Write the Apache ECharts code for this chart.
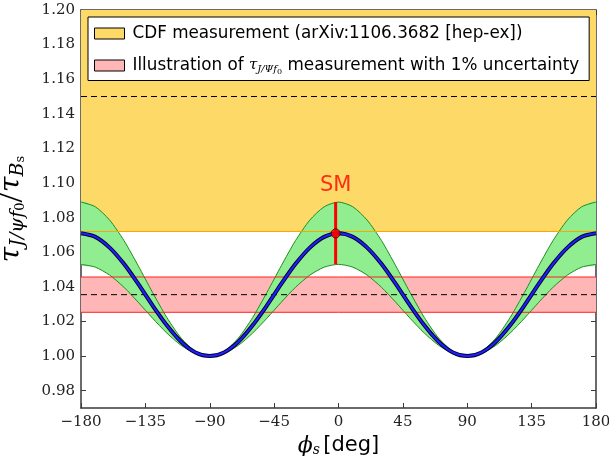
<!DOCTYPE html>
<html>
<head>
<meta charset="utf-8">
<script src="https://cdn.jsdelivr.net/npm/echarts@6/dist/echarts.min.js"></script>
<style>
    html, body { margin: 0; padding: 0; background: #fff; }
    #chart { width: 609px; height: 456px; }
</style>
</head>
<body>
<div id="chart"></div>
<script>
    // phi_s grid (deg) and the tau ratio curve
    const phi = [-180, -170, -160, -150, -140, -130, -120, -110, -100, -90, -80, -70, -60, -50, -40, -30, -20, -10, 0,
                 10, 20, 30, 40, 50, 60, 70, 80, 90, 100, 110, 120, 130, 140, 150, 160, 170, 180]
    const central = [1.0710, 1.0689, 1.0627, 1.0533, 1.0417, 1.0293, 1.0178, 1.0083, 1.0021, 1.0000,
                     1.0021, 1.0083, 1.0178, 1.0293, 1.0417, 1.0533, 1.0627, 1.0689, 1.0710,
                     1.0689, 1.0627, 1.0533, 1.0417, 1.0293, 1.0178, 1.0083, 1.0021, 1.0000,
                     1.0021, 1.0083, 1.0178, 1.0293, 1.0417, 1.0533, 1.0627, 1.0689, 1.0710]
    const upper = [1.0890, 1.0863, 1.0786, 1.0668, 1.0522, 1.0368, 1.0223, 1.0104, 1.0027, 1.0000,
                   1.0027, 1.0104, 1.0223, 1.0368, 1.0522, 1.0668, 1.0786, 1.0863, 1.0890,
                   1.0863, 1.0786, 1.0668, 1.0522, 1.0368, 1.0223, 1.0104, 1.0027, 1.0000,
                   1.0027, 1.0104, 1.0223, 1.0368, 1.0522, 1.0668, 1.0786, 1.0863, 1.0890]
    const lower = [1.0530, 1.0514, 1.0468, 1.0398, 1.0311, 1.0219, 1.0133, 1.0062, 1.0016, 1.0000,
                   1.0016, 1.0062, 1.0133, 1.0219, 1.0311, 1.0398, 1.0468, 1.0514, 1.0530,
                   1.0514, 1.0468, 1.0398, 1.0311, 1.0219, 1.0133, 1.0062, 1.0016, 1.0000,
                   1.0016, 1.0062, 1.0133, 1.0219, 1.0311, 1.0398, 1.0468, 1.0514, 1.0530]

    // CDF measurement and 1% illustration
    const cdfValue = 1.150
    const cdfErr = 0.078
    const illusValue = 1.0355
    const illusErr = 0.0102

    // SM point
    const smPhi = -2
    const smValue = 1.0709
    const smLow = 1.053
    const smHigh = 1.089

    const xTicks = [-180, -135, -90, -45, 0, 45, 90, 135, 180]
    const yTicks = [0.98, 1.00, 1.02, 1.04, 1.06, 1.08, 1.10, 1.12, 1.14, 1.16, 1.18, 1.20]
    const yMin = 0.97
    const yMax = 1.20

    const legendNames = ['CDF measurement (arXiv:1106.3682 [hep-ex])', 'Illustration']

    const chart = echarts.init(document.getElementById('chart'))

    const serifFont = '"DejaVu Serif", serif'
    const sansFont = '"DejaVu Sans", sans-serif'
    const frame = { show: true, onZero: false, lineStyle: { color: '#3a3a3a', width: 1.5 } }
    const tick = { show: true, inside: true, length: 5, lineStyle: { color: '#3a3a3a', width: 1 } }
    const xMin = xTicks[0]
    const xMax = xTicks[xTicks.length - 1]

    const toPts = arr => phi.map((p, i) => [p, arr[i]])

    // horizontal band across the full x range
    function bandItem(low, high, color) {
        return (params, api) => {
            const p1 = api.coord([xMin, Math.min(high, yMax)])
            const p2 = api.coord([xMax, Math.max(low, yMin)])
            return {
                type: 'rect',
                shape: { x: p1[0], y: p1[1], width: p2[0] - p1[0], height: p2[1] - p1[1] },
                style: { fill: color }
            }
        }
    }

    // green uncertainty band between lower and upper
    function greenBand(params, api) {
        const top = phi.map((p, i) => api.coord([p, upper[i]]))
        const bot = phi.map((p, i) => api.coord([p, lower[i]]))
        const box = [api.coord([xMin, yMax]), api.coord([xMax, yMin])]
        return {
            type: 'group',
            children: [{
                type: 'polygon',
                shape: { points: top.concat(bot.slice().reverse()), smooth: 0.25, smoothConstraint: box },
                style: { fill: '#90ee90' }
            }, {
                type: 'polyline',
                shape: { points: top, smooth: 0.25, smoothConstraint: box },
                style: { stroke: '#1f8c1f', lineWidth: 1, fill: null }
            }, {
                type: 'polyline',
                shape: { points: bot, smooth: 0.25, smoothConstraint: box },
                style: { stroke: '#1f8c1f', lineWidth: 1, fill: null }
            }]
        }
    }

    const hLine = (v, color, type, z) => ({
        type: 'line',
        data: [[xMin, v], [xMax, v]],
        symbol: 'none',
        silent: true,
        z: z,
        lineStyle: { color: color, width: 1, type: type }
    })

    const option = {
        animation: false,
        backgroundColor: '#fff',
        grid: { left: 81, right: 13, top: 10, bottom: 48, outerBoundsMode: 'none', containLabel: false },
        legend: {
            orient: 'vertical',
            left: 88,
            top: 17,
            padding: [8, 10, 5, 6],
            itemGap: 15,
            itemWidth: 30,
            itemHeight: 11,
            backgroundColor: '#fff',
            borderColor: '#000',
            borderWidth: 1,
            borderRadius: 0,
            selectedMode: false,
            data: [
                { name: legendNames[0], icon: 'rect', itemStyle: { color: '#fdd968', borderColor: '#000', borderWidth: 1 } },
                { name: legendNames[1], icon: 'rect', itemStyle: { color: '#ffb6b6', borderColor: '#000', borderWidth: 1 } }
            ],
            formatter: name => name === 'Illustration'
                ? 'Illustration of {t|τ}{s|J/Ψf}{z|0} measurement with 1% uncertainty'
                : name,
            textStyle: {
                fontFamily: sansFont,
                fontSize: 16.8,
                color: '#000',
                padding: [0, 0, 0, 3],
                rich: {
                    t: { fontFamily: serifFont, fontStyle: 'italic', fontSize: 15, color: '#000' },
                    s: { fontFamily: serifFont, fontStyle: 'italic', fontSize: 10, color: '#000', padding: [8, 0, 0, 0] },
                    z: { fontFamily: serifFont, fontSize: 8, color: '#000', padding: [12, 0, 0, 0] }
                }
            }
        },
        xAxis: [{
            type: 'value',
            min: xMin,
            max: xMax,
            interval: 45,
            axisLine: frame,
            axisTick: tick,
            splitLine: { show: false },
            axisLabel: {
                margin: 7,
                fontFamily: serifFont,
                fontSize: 15,
                color: '#222',
                formatter: v => String(v).replace('-', '−')
            },
            name: '{p|ϕ}{s|s} {d|[deg]}',
            nameLocation: 'middle',
            nameGap: 23,
            nameTextStyle: {
                rich: {
                    p: { fontFamily: serifFont, fontStyle: 'italic', fontSize: 22, color: '#000' },
                    s: { fontFamily: serifFont, fontStyle: 'italic', fontSize: 14, color: '#000', padding: [8, 0, 0, 0] },
                    d: { fontFamily: sansFont, fontSize: 21, color: '#000' }
                }
            }
        }, {
            type: 'value',
            position: 'top',
            min: xMin,
            max: xMax,
            interval: 45,
            axisLine: frame,
            axisTick: tick,
            axisLabel: { show: false },
            splitLine: { show: false }
        }],
        yAxis: [{
            type: 'value',
            min: yMin,
            max: yMax,
            axisLine: frame,
            axisTick: Object.assign({ customValues: yTicks }, tick),
            splitLine: { show: false },
            axisLabel: {
                customValues: yTicks,
                margin: 6,
                fontFamily: serifFont,
                fontSize: 15,
                color: '#222',
                formatter: v => v.toFixed(2)
            },
            name: '{t|τ}{s|J/ψf}{z|0}{sl|/}{t|τ}{s|B}{z|s}',
            nameLocation: 'middle',
            nameRotate: 90,
            nameGap: 18,
            nameTextStyle: {
                rich: {
                    t: { fontFamily: serifFont, fontStyle: 'italic', fontSize: 28, color: '#000' },
                    s: { fontFamily: serifFont, fontStyle: 'italic', fontSize: 19, color: '#000', padding: [12, 0, 0, 0] },
                    z: { fontFamily: serifFont, fontSize: 13, color: '#000', padding: [18, 0, 0, 0] },
                    sl: { fontFamily: '"Liberation Serif", serif', fontSize: 38, color: '#000' }
                }
            }
        }, {
            type: 'value',
            position: 'right',
            min: yMin,
            max: yMax,
            axisLine: frame,
            axisTick: Object.assign({ customValues: yTicks }, tick),
            axisLabel: { show: false },
            splitLine: { show: false }
        }],
        series: [
            {
                name: legendNames[0],
                type: 'custom',
                data: [0],
                z: 1,
                silent: true,
                itemStyle: { color: '#fdd968' },
                renderItem: bandItem(cdfValue - cdfErr, cdfValue + cdfErr, '#fdd968')
            },
            {
                name: legendNames[1],
                type: 'custom',
                data: [0],
                z: 1,
                silent: true,
                itemStyle: { color: '#ffb6b6' },
                renderItem: bandItem(illusValue - illusErr, illusValue + illusErr, '#ffb6b6')
            },
            {
                type: 'custom',
                data: [0],
                z: 2,
                silent: true,
                renderItem: greenBand
            },
            hLine(cdfValue - cdfErr, '#ffa500', 'solid', 3),
            hLine(cdfValue, '#000', [6, 4], 3),
            hLine(illusValue + illusErr, '#ff2020', 'solid', 3),
            hLine(illusValue - illusErr, '#ff2020', 'solid', 3),
            hLine(illusValue, '#000', [6, 4], 3),
            // central curve: dark outline + blue core
            {
                type: 'line',
                data: toPts(central),
                smooth: 0.3,
                symbol: 'none',
                z: 5,
                lineStyle: { color: '#000030', width: 4 }
            },
            {
                type: 'line',
                data: toPts(central),
                smooth: 0.3,
                symbol: 'none',
                z: 6,
                lineStyle: { color: '#2020ff', width: 2 }
            },
            // SM error bar and point
            {
                type: 'line',
                data: [[smPhi, smLow], [smPhi, smHigh]],
                symbol: 'none',
                z: 7,
                lineStyle: { color: '#ff0000', width: 3 }
            },
            {
                type: 'scatter',
                data: [[smPhi, smValue]],
                symbolSize: 9,
                z: 8,
                itemStyle: { color: '#ff0000', borderColor: '#3a0000', borderWidth: 1 }
            },
            {
                type: 'scatter',
                data: [[smPhi, smHigh]],
                symbolSize: 0,
                z: 8,
                label: {
                    show: true,
                    position: 'top',
                    distance: 6,
                    formatter: 'SM',
                    fontFamily: sansFont,
                    fontSize: 21,
                    color: '#ff0000'
                }
            }
        ]
    }

    chart.setOption(option)
</script>
</body>
</html>
